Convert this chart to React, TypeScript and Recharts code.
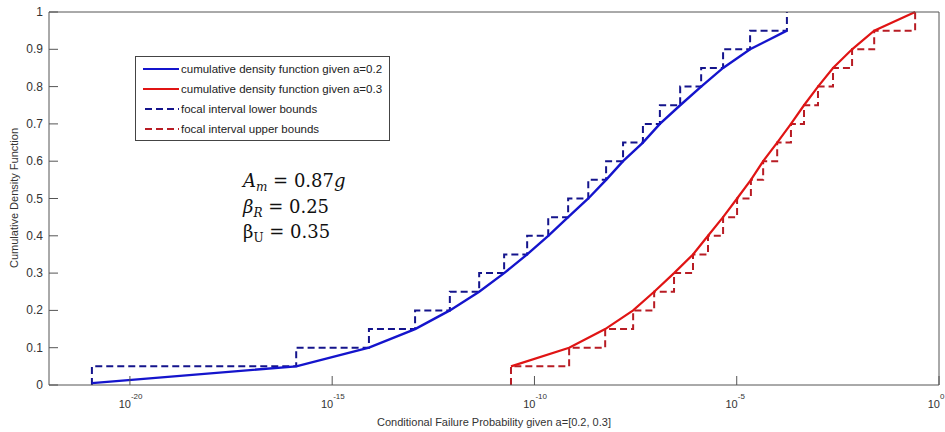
import React from 'react';
import { LineChart, Line, XAxis, YAxis, Legend } from 'recharts';

// log-axis ticks and their exponents
const xTicks = [1e-20, 1e-15, 1e-10, 1e-5, 1];
const xTickExp = ['-20', '-15', '-10', '-5', '0'];
const yTicks = [0, 0.1, 0.2, 0.3, 0.4, 0.5, 0.6, 0.7, 0.8, 0.9, 1];
const yTickLabels = ['0', '0.1', '0.2', '0.3', '0.4', '0.5', '0.6', '0.7', '0.8', '0.9', '1'];

// cdf given a=0.2 and its focal interval lower bounds
const blueX = [
  1.15e-21, 1.29e-16, 8.1e-15, 1.12e-13, 8.1e-13, 4.3e-12, 1.78e-11, 6.6e-11, 2.19e-10, 6.8e-10,
  2.14e-9, 5.9e-9, 1.55e-8, 4.8e-8, 1.26e-7, 4.0e-7, 1.32e-6, 4.6e-6, 2.14e-5, 1.74e-4,
];
const blueCdf = [0.005, 0.05, 0.1, 0.15, 0.2, 0.25, 0.3, 0.35, 0.4, 0.45, 0.5, 0.55, 0.6, 0.65, 0.7, 0.75, 0.8, 0.85, 0.9, 0.95];
const blueLower = [0.05, 0.1, 0.15, 0.2, 0.25, 0.3, 0.35, 0.4, 0.45, 0.5, 0.55, 0.6, 0.65, 0.7, 0.75, 0.8, 0.85, 0.9, 0.95, 1];

// cdf given a=0.3 and its focal interval upper bounds
const redX = [
  2.63e-11, 7.2e-10, 5.6e-9, 2.75e-8, 9.1e-8, 2.82e-7, 8.3e-7, 1.95e-6, 4.6e-6, 1.02e-5,
  2.24e-5, 4.5e-5, 1.0e-4, 2.19e-4, 4.6e-4, 1.02e-3, 2.4e-3, 7.1e-3, 2.5e-2, 0.257,
];
const redCdf = [0.05, 0.1, 0.15, 0.2, 0.25, 0.3, 0.35, 0.4, 0.45, 0.5, 0.55, 0.6, 0.65, 0.7, 0.75, 0.8, 0.85, 0.9, 0.95, 1];
const redUpper = [0.05, 0.1, 0.15, 0.2, 0.25, 0.3, 0.35, 0.4, 0.45, 0.5, 0.55, 0.6, 0.65, 0.7, 0.75, 0.8, 0.85, 0.9, 0.95, 1];

const legendNames = [
  'cumulative density function given a=0.2',
  'cumulative density function given a=0.3',
  'focal interval lower bounds',
  'focal interval upper bounds',
];

const blueSolid = '#1414cc';
const blueDash = '#14148c';
const redSolid = '#e01414';
const redDash = '#b81c24';
const axisColor = '#555';
const textColor = '#333';
const sans = '"Liberation Sans", Arial, sans-serif';

const blueLine = blueX.map((x, i) => ({ x, y: blueCdf[i] }));
const blueSteps = [{ x: blueX[0], y: 0 }, ...blueX.map((x, i) => ({ x, y: blueLower[i] }))];
const redLine = redX.map((x, i) => ({ x, y: redCdf[i] }));
const redSteps = [{ x: redX[0], y: 0 }, ...redX.map((x, i) => ({ x, y: redUpper[i] }))];

const legendRows = [
  { name: legendNames[0], color: blueSolid, dash: undefined },
  { name: legendNames[1], color: redSolid, dash: undefined },
  { name: legendNames[2], color: blueDash, dash: '7 4' },
  { name: legendNames[3], color: redDash, dash: '7 4' },
];

const BottomTick = (props: any) => {
  const { x, y, index } = props;
  return (
    <g>
      <line x1={x} y1={y} x2={x} y2={y - 9} stroke={axisColor} />
      <text x={x + 1} y={y + 23} textAnchor="end" fontSize={11} fontFamily={sans} fill={textColor}>10</text>
      <text x={x + 1} y={y + 14} textAnchor="start" fontSize={8} fontFamily={sans} fill={textColor}>{xTickExp[index]}</text>
    </g>
  );
};

const TopTick = (props: any) => {
  const { x, y } = props;
  return <line x1={x} y1={y} x2={x} y2={y + 9} stroke={axisColor} />;
};

const LeftTick = (props: any) => {
  const { x, y, index } = props;
  return (
    <g>
      <line x1={x} y1={y} x2={x + 9} y2={y} stroke={axisColor} />
      <text x={x - 6} y={y + 4} textAnchor="end" fontSize={12} fontFamily={sans} fill={textColor}>{yTickLabels[index]}</text>
    </g>
  );
};

const RightTick = (props: any) => {
  const { x, y } = props;
  return <line x1={x} y1={y} x2={x - 11} y2={y} stroke={axisColor} />;
};

const LegendBox = () => (
  <div
    style={{
      border: '1px solid #444',
      background: '#fff',
      width: 255,
      height: 85,
      boxSizing: 'border-box',
      padding: '2px 0 0 7px',
      fontFamily: sans,
      fontSize: 11.5,
      color: '#222',
    }}
  >
    {legendRows.map((r) => (
      <div key={r.name} style={{ display: 'flex', alignItems: 'center', height: 20, whiteSpace: 'nowrap' }}>
        <svg width={36} height={10} style={{ marginRight: 2 }}>
          <line x1={r.dash ? 2 : 0} y1={5} x2={36} y2={5} stroke={r.color} strokeWidth={2} strokeDasharray={r.dash} />
        </svg>
        <span>{r.name}</span>
      </div>
    ))}
  </div>
);

export default function App() {
  return (
    <div style={{ position: 'absolute', left: 0, top: 0, width: 945, height: 432, background: '#fff' }}>
      <LineChart width={945} height={432} margin={{ top: 0, right: 0, bottom: 0, left: 0 }}>
        <XAxis
          dataKey="x"
          type="number"
          scale="log"
          domain={[1e-22, 1]}
          allowDataOverflow
          ticks={xTicks}
          height={47}
          tickSize={0}
          tickMargin={0}
          stroke={axisColor}
          tick={<BottomTick />}
        />
        <XAxis
          xAxisId="top"
          orientation="top"
          type="number"
          scale="log"
          domain={[1e-22, 1]}
          allowDataOverflow
          ticks={xTicks}
          height={12}
          tickSize={0}
          tickMargin={0}
          stroke={axisColor}
          tick={<TopTick />}
        />
        <YAxis
          type="number"
          domain={[0, 1]}
          ticks={yTicks}
          width={49}
          tickSize={0}
          tickMargin={0}
          stroke={axisColor}
          tick={<LeftTick />}
        />
        <YAxis
          yAxisId="right"
          orientation="right"
          type="number"
          domain={[0, 1]}
          ticks={yTicks}
          width={6}
          tickSize={0}
          tickMargin={0}
          stroke={axisColor}
          tick={<RightTick />}
        />
        <Legend
          layout="vertical"
          verticalAlign="middle"
          align="center"
          content={<LegendBox />}
          wrapperStyle={{ left: 135, top: 56, width: 255, height: 85 }}
        />
        <Line data={blueSteps} dataKey="y" type="stepAfter" stroke={blueDash} strokeWidth={2} strokeDasharray="7 4" dot={false} isAnimationActive={false} />
        <Line data={redSteps} dataKey="y" type="stepAfter" stroke={redDash} strokeWidth={2} strokeDasharray="7 4" dot={false} isAnimationActive={false} />
        <Line data={blueLine} dataKey="y" type="linear" stroke={blueSolid} strokeWidth={2.4} dot={false} isAnimationActive={false} />
        <Line data={redLine} dataKey="y" type="linear" stroke={redSolid} strokeWidth={2.2} dot={false} isAnimationActive={false} />
      </LineChart>
      <svg width={945} height={432} style={{ position: 'absolute', left: 0, top: 0, pointerEvents: 'none' }}>
        <text x={14} y={198} transform="rotate(-90 14 198)" dy={4} textAnchor="middle" fontSize={11} fontFamily={sans} fill={textColor}>
          Cumulative Density Function
        </text>
        <text x={494} y={426} textAnchor="middle" fontSize={11} fontFamily={sans} fill={textColor}>
          Conditional Failure Probability given a=[0.2, 0.3]
        </text>
        <g fontFamily='"DejaVu Serif", serif' fontSize={18} fill="#111">
          <text x={243} y={187}>
            <tspan fontStyle="italic">A</tspan>
            <tspan fontStyle="italic" fontSize={12} dy={4}>m</tspan>
            <tspan dy={-4}>{' = 0.87'}</tspan>
            <tspan fontStyle="italic">g</tspan>
          </text>
          <text x={243} y={213}>
            <tspan fontStyle="italic">β</tspan>
            <tspan fontStyle="italic" fontSize={12} dy={4}>R</tspan>
            <tspan dy={-4}>{' = 0.25'}</tspan>
          </text>
          <text x={243} y={238}>
            <tspan>β</tspan>
            <tspan fontSize={12} dy={4}>U</tspan>
            <tspan dy={-4}>{' = 0.35'}</tspan>
          </text>
        </g>
      </svg>
    </div>
  );
}
